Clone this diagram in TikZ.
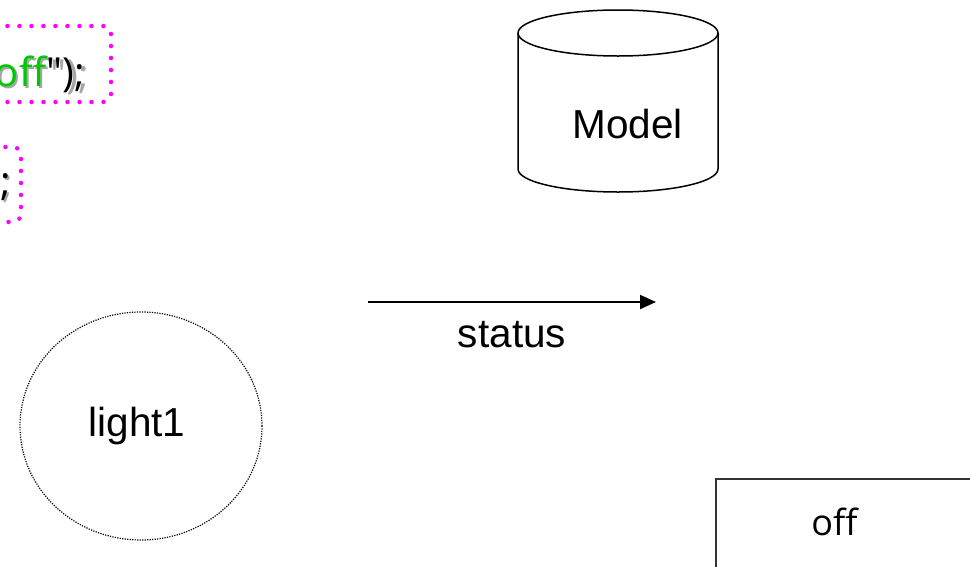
\documentclass[tikz,border=0pt]{standalone}
\usepackage{fontspec}
\setmainfont{Liberation Sans}
\newfontfamily\codefont{Open Sans}
\usetikzlibrary{shapes.geometric,arrows.meta}
\definecolor{codegreen}{RGB}{0,200,0}
\definecolor{notemagenta}{RGB}{255,0,255}
\newcommand\shadowtext[2]{\rlap{\kern2pt\raisebox{-2pt}{\textcolor{black!35}{#1}}}#2}
\tikzset{
  dotbox/.style={draw=notemagenta,line width=4.5pt,line cap=round,dash pattern=on 0pt off 12pt,rounded corners=8pt},
  codetxt/.style={inner sep=0pt,anchor=base east,font=\codefont\fontsize{40}{46}\selectfont},
  valuetxt/.style={inner sep=0pt,anchor=base,font=\codefont\fontsize{36}{42}\selectfont},
  bigtxt/.style={inner sep=0pt,font=\fontsize{40.5}{48}\selectfont},
}
\begin{document}
\begin{tikzpicture}[x=1pt,y=1pt]
        \clip (0,0) rectangle (970,-566);
        %% code fragments
        \draw[dotbox] (-300,-26) rectangle (111,-102);
        \node[codetxt] (code1) at (85,-86) {\shadowtext{off");}{\textcolor{codegreen}{off}");}};
        \draw[dotbox] (-300,-147) rectangle (21,-222);
        \node[codetxt] (code2) at (11,-195) {\shadowtext{;}{;}};
        %% model
        \draw[line width=1.5pt,fill=white] (518,-33) -- (518,-169)
            arc[start angle=180,end angle=360,x radius=100,y radius=23] -- (718,-33);
        \draw[line width=1.5pt] (618,-33) ellipse[x radius=100,y radius=23];
        \node[bigtxt,anchor=base] (model) at (627.5,-138) {Model};
        %% object
        \node[ellipse,draw,line width=1.2pt,dash pattern=on 1.2pt off 1.3pt,minimum width=242pt,minimum height=228pt,bigtxt] (light1) at (141,-426) {\kern-8pt light1};
        %% message
        \coordinate (msgfrom) at (368,-302);
        \coordinate (msgto) at (656,-302);
        \draw[line width=2pt,-{Triangle[length=16pt,width=14pt]}] (msgfrom) -- node[bigtxt,anchor=base,yshift=-45pt] (status) {status} (msgto);
        %% value
        \draw[line width=1.3pt,draw=black!80] (716,-479) rectangle (1100,-700);
        \node[valuetxt] (value) at (834.5,-535) {off};
\end{tikzpicture}
\end{document}
